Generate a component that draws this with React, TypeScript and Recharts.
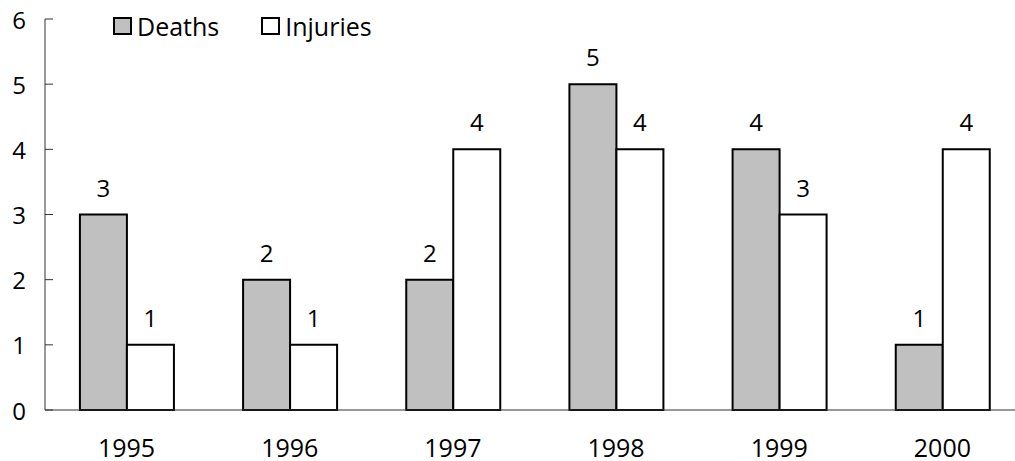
import { BarChart, Bar, XAxis, YAxis, Legend, LabelList } from "recharts"

const YEARS = ['1995', '1996', '1997', '1998', '1999', '2000']
const DEATHS = [3, 2, 2, 5, 4, 1]
const INJURIES = [1, 1, 4, 4, 3, 4]
const Y_TICKS = [0, 1, 2, 3, 4, 5, 6]

const FONT = '"Open Sans", sans-serif'

const data = YEARS.map((year, i) => ({
  year,
  deaths: DEATHS[i],
  injuries: INJURIES[i],
}))

function YTick({ x, y, payload }: any) {
  return <g>
      <line x1={x} x2={x + 8} y1={y} y2={y} stroke="#333" strokeWidth={1} />
      <text x={x - 19} y={y} textAnchor="end" dominantBaseline="central" fontSize={24} fill="#000">
        {payload.value}
      </text>
    </g>
}

function XTick({ x, y, payload }: any) {
  return <text x={x} y={y + 37} textAnchor="middle" dominantBaseline="central" fontSize={25} fill="#000">
      {payload.value}
    </text>
}

function LegendContent({ payload }: any) {
  return <div style={{ display: 'flex', alignItems: 'center', gap: 42 }}>
      {(payload || []).map((item: any) => (
        <div key={item.value} style={{ display: 'flex', alignItems: 'center' }}>
          <span style={{
            display: 'inline-block', width: 19, height: 18, boxSizing: 'border-box',
            border: '2px solid #000', background: item.payload.fill, marginRight: 5,
          }} />
          <span style={{ fontSize: 25, color: '#000', lineHeight: '26px' }}>{item.value}</span>
        </div>
      ))}
    </div>
}

export default function App() {
  return <div style={{ position: 'absolute', left: 0, top: 0, width: 1015, height: 461, overflow: 'hidden', background: '#fff', fontFamily: FONT }}>
      <BarChart width={1030} height={461} data={data} margin={{ top: 19, right: 6, left: 0, bottom: 0 }}
        barCategoryGap="21.4%" barGap={0}>
        <XAxis dataKey="year" height={51} tickLine={false} tickSize={0} tickMargin={0}
          axisLine={{ stroke: '#333', strokeWidth: 1 }} tick={<XTick />} interval={0} />
        <YAxis width={45} domain={[0, 6]} ticks={Y_TICKS} tickLine={false} tickSize={0} tickMargin={0}
          axisLine={{ stroke: '#333', strokeWidth: 1 }} tick={<YTick />} interval={0} />
        <Legend verticalAlign="middle" align="center" content={<LegendContent />}
          wrapperStyle={{ top: 13, left: 113, width: 'auto' }} />
        <Bar dataKey="deaths" name="Deaths" fill="#c0c0c0" stroke="#000" strokeWidth={2} isAnimationActive={false}>
          <LabelList dataKey="deaths" position="top" offset={18} fontSize={24} fill="#000" />
        </Bar>
        <Bar dataKey="injuries" name="Injuries" fill="#ffffff" stroke="#000" strokeWidth={2} isAnimationActive={false}>
          <LabelList dataKey="injuries" position="top" offset={18} fontSize={24} fill="#000" />
        </Bar>
      </BarChart>
    </div>
}
